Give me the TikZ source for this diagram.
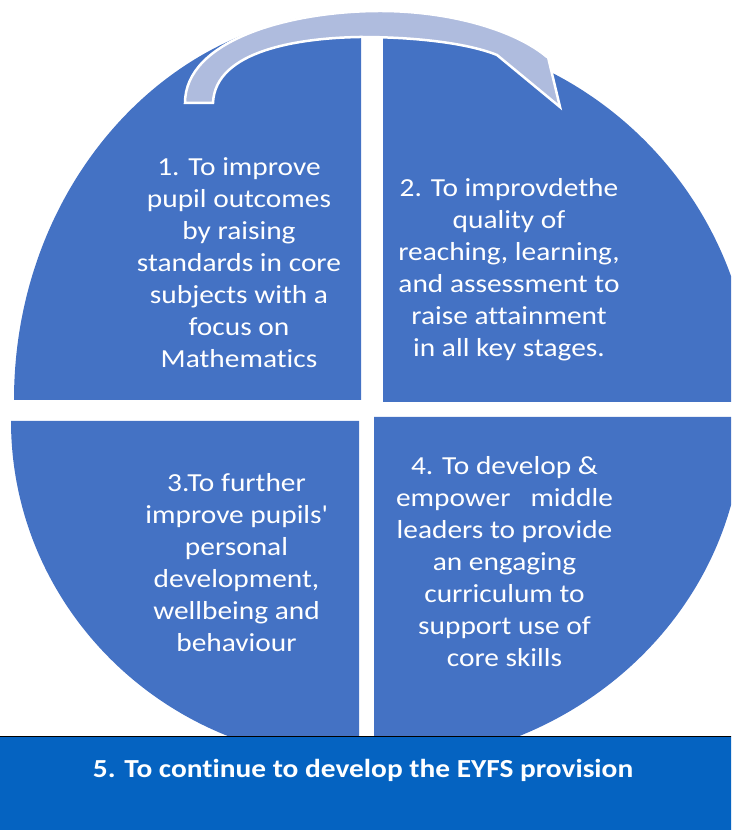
\documentclass[tikz,border=0pt]{standalone}
\usepackage{fontspec}
\setmainfont[Ligatures={NoCommon},FakeStretch=1.13]{Carlito}
\definecolor{quadblue}{HTML}{4472C4}
\definecolor{bannerblue}{HTML}{0563C1}
\definecolor{arrowblue}{RGB}{175,188,222}
\tikzset{quarter/.style={fill=quadblue,draw=none},
         goal text/.style={text=white,align=center,inner sep=0pt,font=\fontsize{26}{32}\selectfont},
         banner text/.style={text=white,inner sep=0pt,font=\bfseries\fontsize{26}{31}\selectfont},
         cycle arrow/.style={fill=arrowblue,draw=white,line width=2.5pt,line join=miter},
         banner box/.style={fill=bannerblue,draw=black,line width=1pt},
}

\begin{document}
\begin{tikzpicture}[x=1pt,y=1pt]

\useasboundingbox (0,0) rectangle (731,830);
\clip (0,0) rectangle (731,830);
% \draw[help lines,step=50] (0,0) grid (731,830);

\coordinate (q1_c) at (361,430);
\coordinate (q2_c) at (383,428);
\coordinate (q3_c) at (359,409);
\coordinate (q4_c) at (374,413);

\fill[quarter] (q1_c) -- ++(0,388) arc[start angle=90,end angle=180,x radius=347,y radius=388] -- cycle;
\fill[quarter] (q2_c) -- ++(370,0) arc[start angle=0,end angle=90,radius=370] -- cycle;
\fill[quarter] (q3_c) -- ++(-348,0) arc[start angle=180,end angle=270,x radius=348,y radius=340] -- cycle;
\fill[quarter] (q4_c) -- ++(0,-347) arc[start angle=270,end angle=360,x radius=369,y radius=347] -- cycle;

\draw[cycle arrow] (185,727) .. controls (185,790) and (290,819) .. (380,819)
    .. controls (450,819) and (515,800) .. (547,773) -- (548,773) -- (560,723) -- (497,775)
    .. controls (470,786) and (420,793) .. (360,793)
    .. controls (300,792) and (215,780) .. (213,727) -- cycle;

\node[goal text] (goal_1) at (239,567) {1. To improve\\pupil outcomes\\by raising\\standards in core\\subjects with a\\focus on\\Mathematics};
\node[goal text] (goal_2) at (509,560) {2. To improvdethe\\quality of\\reaching, learning,\\and assessment to\\raise attainment\\in all key stages.};
\node[goal text] (goal_3) at (236.5,267) {3.To further\\improve pupils\textquotesingle\\personal\\development,\\wellbeing and\\behaviour};
\node[goal text] (goal_4) at (504.5,268) {4. To develop \&\\empower\ \ \ middle\\leaders to provide\\an engaging\\curriculum to\\support use of\\core skills};

\draw[banner box] (-5,-5) rectangle (736,93);
\node[banner text] (goal_5) at (363,60) {5. To continue to develop the EYFS provision};

\end{tikzpicture}
\end{document}
